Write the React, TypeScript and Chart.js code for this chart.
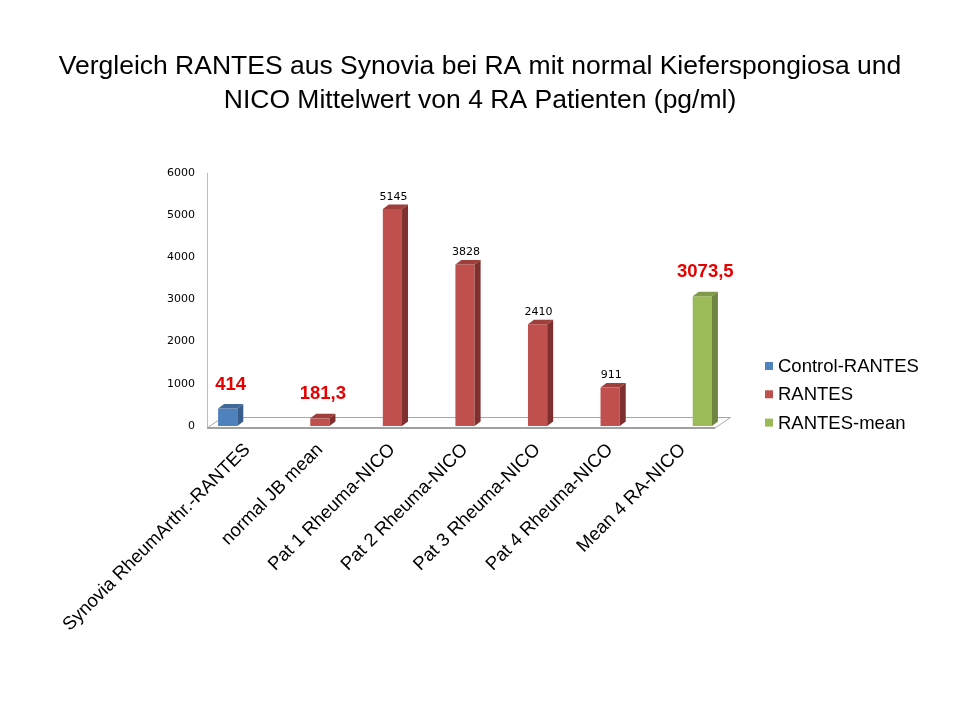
import React, { useEffect, useRef } from 'react';
import { Chart, registerables } from 'chart.js';

Chart.register(...registerables);

const categories = [
  'Synovia RheumArthr.-RANTES',
  'normal JB mean',
  'Pat 1 Rheuma-NICO',
  'Pat 2 Rheuma-NICO',
  'Pat 3 Rheuma-NICO',
  'Pat 4 Rheuma-NICO',
  'Mean 4 RA-NICO',
];
const controlRantes = [414, null, null, null, null, null, null];
const rantes = [null, 181.3, 5145, 3828, 2410, 911, null];
const rantesMean = [null, null, null, null, null, null, 3073.5];
const seriesNames = ['Control-RANTES', 'RANTES', 'RANTES-mean'];
const yMin = 0;
const yMax = 6000;
const yStep = 1000;
const titleLines = [
  'Vergleich RANTES aus Synovia bei RA mit normal Kieferspongiosa und',
  'NICO Mittelwert von 4 RA Patienten (pg/ml)',
];
// categories whose value label is shown large, bold and red
const highlightedCategories = [0, 1, 6];

const FRONT = ['#4F81BD', '#C0504D', '#9BBB59'];
const SIDE = ['#385D8A', '#7F302E', '#6D8540'];
const TOP = ['#41699A', '#9E3F3C', '#809A4A'];

const SANS = '"Liberation Sans", Arial, sans-serif';
const SMALL = '"DejaVu Sans", Verdana, sans-serif';

const fmt = (v: number) => String(v).replace('.', ',');

const floorPlugin = {
  id: 'floor3d',
  beforeDatasetsDraw(chart: any) {
    const { ctx, chartArea } = chart;
    const yScale = chart.scales.y;
    const l = chartArea.left - 4;
    const r = chartArea.right - 4;
    const fy = chartArea.bottom + 2;
    const dx = 15.5;
    const dy = 11;
    ctx.save();
    ctx.strokeStyle = '#bdbdbd';
    ctx.lineWidth = 1;
    ctx.beginPath();
    ctx.moveTo(l + 0.5, fy);
    ctx.lineTo(l + 0.5, yScale.getPixelForValue(yMax));
    ctx.stroke();
    ctx.strokeStyle = '#a6a6a6';
    ctx.beginPath();
    ctx.moveTo(l, fy);
    ctx.lineTo(l + dx, fy - dy + 0.5);
    ctx.lineTo(r + dx, fy - dy + 0.5);
    ctx.lineTo(r, fy);
    ctx.stroke();
    ctx.strokeStyle = '#a0a0a0';
    ctx.lineWidth = 2;
    ctx.beginPath();
    ctx.moveTo(l, fy);
    ctx.lineTo(r, fy);
    ctx.stroke();
    ctx.restore();
  },
};

const barsPlugin = {
  id: 'bars3d',
  afterDatasetsDraw(chart: any) {
    const { ctx } = chart;
    const dx = 6;
    const dy = 4.5;
    ctx.save();
    chart.data.datasets.forEach((ds: any, di: number) => {
      const meta = chart.getDatasetMeta(di);
      meta.data.forEach((el: any, i: number) => {
        const v = ds.data[i];
        if (v === null || v === undefined) return;
        const { x, y, base, width } = el.getProps(['x', 'y', 'base', 'width'], true);
        const xl = x - width / 2;
        const xr = x + width / 2;
        ctx.fillStyle = SIDE[di];
        ctx.beginPath();
        ctx.moveTo(xr, y);
        ctx.lineTo(xr + dx, y - dy);
        ctx.lineTo(xr + dx, base - dy);
        ctx.lineTo(xr, base);
        ctx.closePath();
        ctx.fill();
        ctx.fillStyle = TOP[di];
        ctx.beginPath();
        ctx.moveTo(xl, y);
        ctx.lineTo(xl + dx, y - dy);
        ctx.lineTo(xr + dx, y - dy);
        ctx.lineTo(xr, y);
        ctx.closePath();
        ctx.fill();
      });
    });
    ctx.restore();
  },
};

const labelPlugin = {
  id: 'valueLabels',
  afterDatasetsDraw(chart: any) {
    const { ctx } = chart;
    ctx.save();
    ctx.textAlign = 'center';
    ctx.textBaseline = 'middle';
    chart.data.datasets.forEach((ds: any, di: number) => {
      const meta = chart.getDatasetMeta(di);
      meta.data.forEach((el: any, i: number) => {
        const v = ds.data[i];
        if (v === null || v === undefined) return;
        const big = highlightedCategories.includes(i);
        if (big) {
          ctx.font = `bold 18.5px ${SANS}`;
          ctx.fillStyle = '#E60000';
          ctx.fillText(fmt(v), el.x + 3, el.y - 24);
        } else {
          ctx.font = `11px ${SMALL}`;
          ctx.fillStyle = '#000';
          ctx.fillText(fmt(v), el.x + 1, el.y - 12);
        }
      });
    });
    ctx.restore();
  },
};

const legendPlugin = {
  id: 'sideLegend',
  afterDraw(chart: any) {
    const { ctx, chartArea } = chart;
    const x0 = chartArea.right + 46;
    const yc0 = chartArea.bottom - 60;
    const gap = 28.3;
    ctx.save();
    ctx.font = `18.5px ${SANS}`;
    ctx.textBaseline = 'middle';
    ctx.textAlign = 'left';
    chart.data.datasets.forEach((ds: any, di: number) => {
      const yc = yc0 + di * gap;
      ctx.fillStyle = FRONT[di];
      ctx.fillRect(x0, yc - 4, 8, 8);
      ctx.fillStyle = '#000';
      ctx.fillText(ds.label, x0 + 13, yc + 1);
    });
    ctx.restore();
  },
};

export default function App() {
  const ref = useRef<HTMLCanvasElement>(null);
  useEffect(() => {
    document.body.style.margin = '0';
    const canvas = ref.current;
    if (!canvas) return;
    const chart = new Chart(canvas, {
      type: 'bar',
      data: {
        labels: categories,
        datasets: [
          { label: seriesNames[0], data: controlRantes, backgroundColor: FRONT[0] },
          { label: seriesNames[1], data: rantes, backgroundColor: FRONT[1] },
          { label: seriesNames[2], data: rantesMean, backgroundColor: FRONT[2] },
        ],
      },
      options: {
        responsive: false,
        animation: false,
        events: [],
        datasets: { bar: { categoryPercentage: 0.81, barPercentage: 0.98 } },
        layout: { padding: 0 },
        plugins: {
          legend: { display: false },
          tooltip: { enabled: false },
          title: {
            display: true,
            text: titleLines,
            color: '#000',
            font: { family: SANS, size: 26.5, weight: 'normal', lineHeight: 1.3 },
            padding: { top: 49, bottom: 55 },
          },
        },
        scales: {
          x: {
            grid: { display: false, drawTicks: false },
            border: { display: false },
            ticks: {
              autoSkip: false,
              minRotation: 45,
              maxRotation: 45,
              color: '#000',
              padding: 13,
              font: { family: SANS, size: 18.5 },
            },
            afterFit: (s: any) => {
              s.height = 720 - 426;
            },
          },
          y: {
            min: yMin,
            max: yMax,
            grid: { display: false, drawTicks: false },
            border: { display: false },
            ticks: {
              stepSize: yStep,
              color: '#000',
              padding: 16,
              font: { family: SMALL, size: 11 },
              callback: (v: any) => String(v),
            },
            afterFit: (s: any) => {
              s.width = 211;
            },
          },
          legendSpace: {
            type: 'linear',
            position: 'right',
            display: true,
            grid: { display: false, drawTicks: false },
            border: { display: false },
            ticks: { display: false },
            afterFit: (s: any) => {
              s.width = 241;
            },
          },
        },
      } as any,
      plugins: [floorPlugin, barsPlugin, labelPlugin, legendPlugin],
    });
    return () => chart.destroy();
  }, []);
  return (
    <div style={{ width: 960, height: 720, background: '#fff' }}>
      <canvas ref={ref} width={960} height={720} style={{ display: 'block' }} />
    </div>
  );
}
